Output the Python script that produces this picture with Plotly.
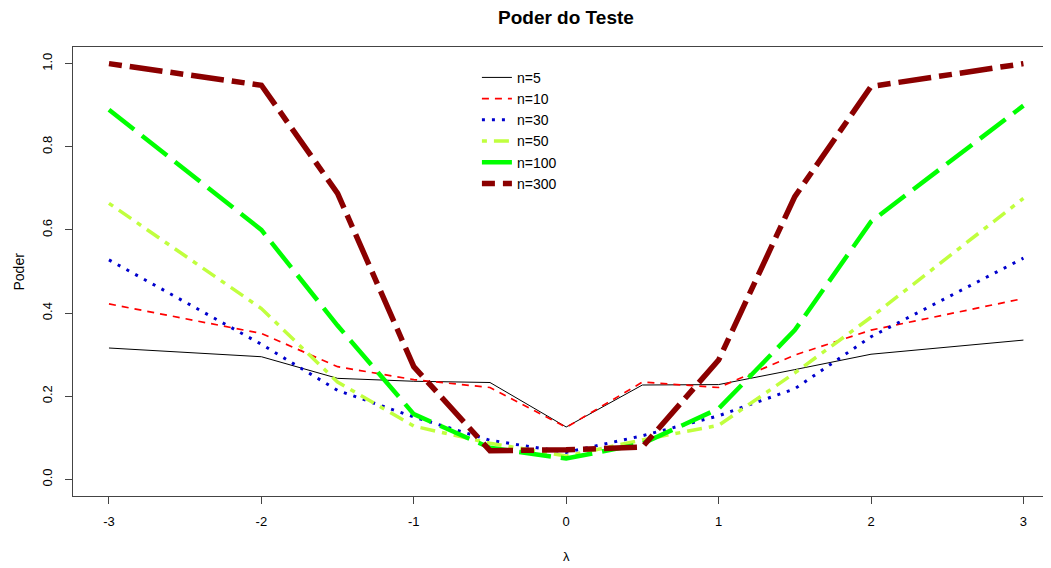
import plotly.graph_objects as go

# ---- data ----
lam = [-3, -2, -1.5, -1, -0.5, 0, 0.5, 1, 1.5, 2, 3]
n5 = [0.316, 0.295, 0.243, 0.236, 0.233, 0.126, 0.227, 0.228, 0.264, 0.301, 0.335]
n10 = [0.422, 0.351, 0.271, 0.240, 0.221, 0.125, 0.234, 0.221, 0.299, 0.359, 0.435]
n30 = [0.528, 0.325, 0.214, 0.150, 0.094, 0.065, 0.105, 0.153, 0.218, 0.343, 0.532]
n50 = [0.664, 0.411, 0.234, 0.128, 0.087, 0.056, 0.095, 0.130, 0.256, 0.390, 0.676]
n100 = [0.889, 0.600, 0.370, 0.157, 0.076, 0.050, 0.086, 0.170, 0.359, 0.620, 0.899]
n300 = [1.000, 0.948, 0.688, 0.271, 0.069, 0.071, 0.078, 0.287, 0.680, 0.945, 1.000]

series_names = ["n=5", "n=10", "n=30", "n=50", "n=100", "n=300"]
series_vals = [n5, n10, n30, n50, n100, n300]
colors = ["#000000", "#FF0000", "#0000CD", "#C0FF3E", "#00FF00", "#8B0000"]
widths = [1, 1.7, 3, 3.5, 4.5, 5.5]
dashes = ["solid", "7px,6px", "3px,7px", "5px,7px,15px,7px", "32px,10px", "13px,8px,33px,8px"]

x_ticks = [-3, -2, -1, 0, 1, 2, 3]
y_ticks = [0.0, 0.2, 0.4, 0.6, 0.8, 1.0]
y_tick_text = ["0.0", "0.2", "0.4", "0.6", "0.8", "1.0"]

FONT = "Liberation Sans, Arial, sans-serif"

fig = go.Figure()
for name, vals, c, w, d in zip(series_names, series_vals, colors, widths, dashes):
    fig.add_trace(go.Scatter(x=lam, y=vals, mode="lines", name=name,
                             line=dict(color=c, width=w, dash=d)))

# The page body adds an 8px offset; size the figure so that the visible
# window matches the target layout.
OFF = 8
W, H = 1051 - OFF, 568 - OFF
L, T, B = 73 - OFF, 47 - OFF, 72
fig.update_layout(
    width=W, height=H,
    margin=dict(l=L, r=0, t=T, b=B, pad=0),
    paper_bgcolor="white", plot_bgcolor="white",
    font=dict(family=FONT, color="#000000"),
    showlegend=True,
    legend=dict(x=0.413, y=0.967, xanchor="left", yanchor="top",
                bgcolor="rgba(0,0,0,0)", borderwidth=0,
                font=dict(size=14, family=FONT)),
    xaxis=dict(range=[-3.236, 3.181], tickmode="array", tickvals=x_ticks,
               ticktext=[str(v) for v in x_ticks],
               showgrid=False, zeroline=False, showline=True, linecolor="#444",
               linewidth=1, mirror=True, ticks="outside", ticklen=7, tickcolor="#444",
               tickfont=dict(size=13), ticklabelstandoff=6),
    yaxis=dict(range=[-0.04, 1.04], tickmode="array", tickvals=y_ticks,
               ticktext=y_tick_text, tickangle=-90,
               showgrid=False, zeroline=False, showline=True, linecolor="#444",
               linewidth=1, mirror=False, ticks="outside", ticklen=7, tickcolor="#444",
               tickfont=dict(size=13), ticklabelstandoff=8),
)

plot_w = W - L
plot_h = H - T - B
plot_bottom = H - B
fig.add_annotation(text="<b>Poder do Teste</b>", xref="paper", yref="paper",
                   x=(566 - 73) / plot_w, y=1 + (T - (17 - OFF)) / plot_h,
                   xanchor="center", yanchor="middle", showarrow=False,
                   font=dict(size=19, family=FONT))
fig.add_annotation(text="Poder", xref="paper", yref="paper",
                   x=(18 - 73) / plot_w, y=0.5, textangle=-90,
                   xanchor="center", yanchor="middle", showarrow=False,
                   font=dict(size=14, family=FONT))
fig.add_annotation(text="λ", xref="paper", yref="paper",
                   x=(566 - 73) / plot_w, y=-((556 - OFF) - plot_bottom) / plot_h,
                   xanchor="center", yanchor="middle", showarrow=False,
                   font=dict(size=13, family=FONT))

fig.write_html("out.html")
